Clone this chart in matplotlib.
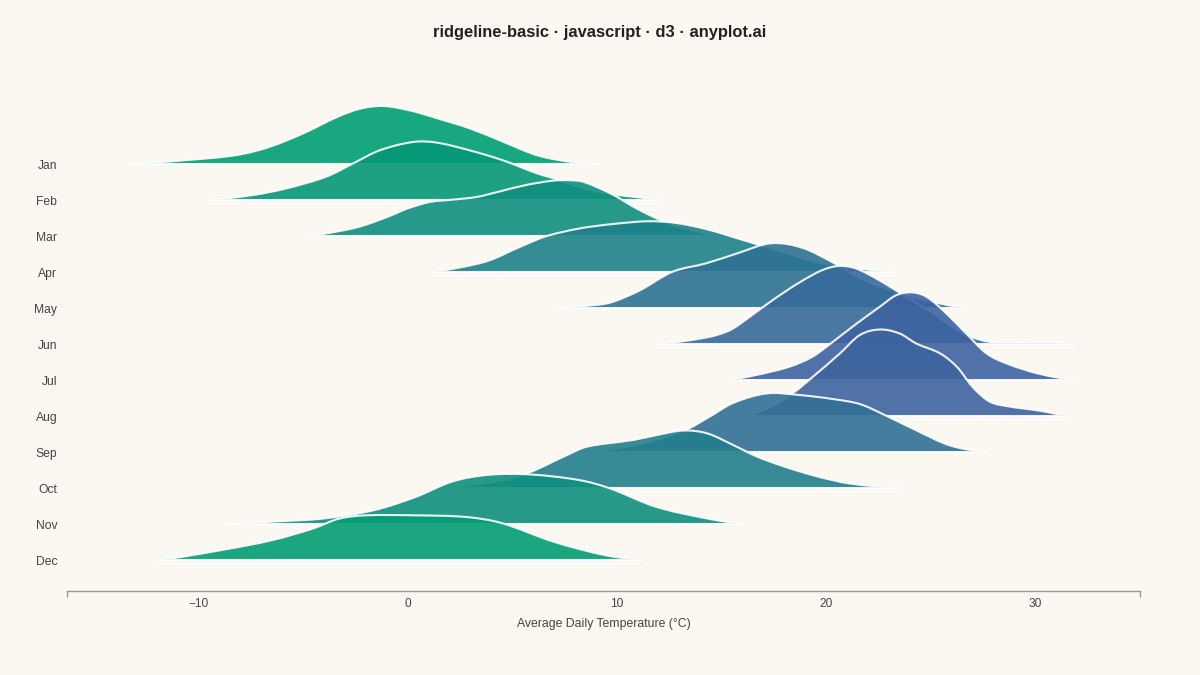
import numpy as np
import matplotlib
matplotlib.use("Agg")
import matplotlib.pyplot as plt
from matplotlib.path import Path
from matplotlib.patches import PathPatch
from matplotlib import colors as mcolors

plt.rcParams["font.family"] = ["Liberation Sans", "DejaVu Sans"]

months = ["Jan", "Feb", "Mar", "Apr", "May", "Jun",
          "Jul", "Aug", "Sep", "Oct", "Nov", "Dec"]

# density profiles (temperature in °C, density per °C)
jan_x = [-13.3, -10.6, -8.2, -6.6, -5.0, -3.4, -2.3, -1.2, 0.1, 1.4, 2.95, 4.55, 6.15, 7.75, 9.2]
jan_d = [0, .007, .016, .031, .055, .084, .099, .104, .096, .082, .064, .040, .016, .004, 0]

feb_x = [-9.6, -7.4, -5.8, -3.9, -2.6, -1.35, 0.25, 1.35, 2.95, 4.55, 6.15, 6.95, 8.2,
         9.65, 11.1, 12.15]
feb_d = [0, .009, .021, .042, .066, .089, .104, .103, .089, .071, .048, .039, .023,
         .011, .0045, 0]

mar_x = [-4.8, -3.25, -2.3, -1.35, -0.55, -0.05, 1.05, 2.1, 3.3, 4.4, 5.6, 6.9, 7.75,
         8.4, 9.7, 10.95, 12.05, 13.0, 13.95, 14.9]
mar_d = [0, .009, .017, .029, .041, .049, .061, .065, .070, .080, .091, .099, .100,
         .097, .076, .049, .029, .016, .007, 0]

apr_x = [1.05, 2.6, 3.9, 5.35, 6.6, 8.2, 9.8, 11.5, 12.8, 14.25, 16.05, 17.9, 19.75, 21.55, 23.4]
apr_d = [0, .009, .021, .045, .064, .078, .086, .091, .088, .077, .057, .036, .016, .006, 0]

may_x = [7.1, 8.7, 9.7, 11.1, 12.65, 14.25, 15.75, 17.35, 18.85, 20.45, 21.55, 22.55,
         23.85, 25.45, 26.7]
may_d = [0, .0045, .010, .032, .065, .080, .098, .116, .108, .079, .055, .039, .023, .008, 0]

jun_x = [11.9, 14.3, 15.4, 16.35, 17.45, 18.75, 19.85, 20.65, 21.45, 22.55, 23.85,
         25.1, 26.25, 27.0, 27.8, 29.4, 30.55, 31.9]
jun_d = [0, .012, .025, .049, .079, .111, .133, .140, .135, .114, .084, .055, .025,
         .012, .004, .0023, .0036, 0]

jul_x = [15.25, 16.65, 18.25, 19.35, 20.3, 21.45, 22.55, 23.35, 24.1, 24.8, 25.75,
         26.7, 27.65, 28.6, 30.2, 31.95]
jul_d = [0, .009, .024, .042, .068, .101, .131, .152, .157, .149, .119, .083, .048, .030, .011, 0]

aug_x = [15.85, 17.05, 18.4, 19.35, 20.65, 21.6, 22.55, 23.5, 24.3, 25.45, 26.25,
         27.0, 27.8, 28.6, 30.2, 31.65]
aug_d = [0, .011, .041, .070, .112, .145, .155, .148, .130, .112, .088, .052, .026, .018, .0095, 0]

sep_x = [8.2, 10.15, 11.55, 13.3, 14.45, 15.55, 17.15, 18.75, 20.3, 21.6, 22.7, 24.3, 25.9, 27.65]
sep_d = [0, .007, .018, .040, .064, .088, .105, .102, .095, .086, .068, .039, .012, 0]

oct_x = [1.35, 3.3, 4.4, 5.75, 7.6, 8.55, 10.75, 11.9, 13.15, 14.3, 15.55, 16.65,
         17.95, 19.55, 21.15, 23.5]
oct_d = [0, .007, .0125, .027, .059, .074, .086, .095, .103, .098, .077, .057,
         .039, .021, .008, 0]

nov_x = [-8.65, -6.35, -4.0, -1.6, 0.4, 2.1, 3.8, 5.75, 8.15, 9.65, 11.85, 14.3, 16.1]
nov_d = [0, .0045, .010, .025, .049, .076, .088, .089, .079, .064, .031, .010, 0]

dec_x = [-12.05, -8.9, -6.45, -4.5, -3.3, -2.05, 0.4, 2.8, 4.5, 6.95, 9.4, 11.25]
dec_d = [0, .018, .036, .057, .074, .080, .080, .077, .066, .033, .009, 0]

ridges = [(jan_x, jan_d), (feb_x, feb_d), (mar_x, mar_d), (apr_x, apr_d),
          (may_x, may_d), (jun_x, jun_d), (jul_x, jul_d), (aug_x, aug_d),
          (sep_x, sep_d), (oct_x, oct_d), (nov_x, nov_d), (dec_x, dec_d)]

ticks = [-10, 0, 10, 20, 30]

BG = "#FAF8F1"
COLD = np.array(mcolors.to_rgb("#009E73"))
WARM = np.array(mcolors.to_rgb("#3E63A0"))
SCALE = 15.5  # ridge height per unit density, in row spacings


def ridge_path(xs, ys, base):
    # smooth cubic through the read points, tangents from neighbours
    x = np.asarray(xs, float)
    y = np.asarray(ys, float) * SCALE + base
    m = np.zeros_like(x)
    m[1:-1] = (y[2:] - y[:-2]) / (x[2:] - x[:-2])
    m[0] = (y[1] - y[0]) / (x[1] - x[0]) * 0.5
    m[-1] = (y[-1] - y[-2]) / (x[-1] - x[-2]) * 0.5
    verts = [(x[0], base), (x[0], y[0])]
    codes = [Path.MOVETO, Path.LINETO]
    for k in range(len(x) - 1):
        d = (x[k + 1] - x[k]) / 3
        c1 = max(y[k] + m[k] * d, base)
        c2 = max(y[k + 1] - m[k + 1] * d, base)
        verts += [(x[k] + d, c1), (x[k + 1] - d, c2), (x[k + 1], y[k + 1])]
        codes += [Path.CURVE4] * 3
    verts += [(x[-1], base), (x[0], base)]
    codes += [Path.LINETO, Path.CLOSEPOLY]
    return Path(verts, codes)


fig = plt.figure(figsize=(12, 6.75), dpi=100, facecolor=BG)
ax = fig.add_axes([67 / 1200, 84 / 675, 1073 / 1200, 531 / 675])
ax.set_facecolor(BG)

means = [np.average(x, weights=np.asarray(d) + 1e-9) for x, d in ridges]
lo, hi = min(means), max(means)
n = len(months)
for i, (x, d) in enumerate(ridges):
    base = n - 1 - i
    t = (means[i] - lo) / (hi - lo)
    col = COLD + (WARM - COLD) * t
    ax.add_patch(PathPatch(ridge_path(x, d, base), facecolor=col, alpha=0.9,
                           edgecolor="white", linewidth=1.5, zorder=2 + i))

ax.set_xlim(-16.3, 35)
ax.set_ylim(-0.861, 13.889)

ax.set_yticks(range(n))
ax.set_yticklabels(months[::-1], fontsize=8.7, color="#444444")
ax.tick_params(axis="y", length=0, pad=7)

ax.set_xticks(ticks)
ax.set_xticklabels(["\u2212" + str(-v) if v < 0 else str(v) for v in ticks],
                   fontsize=8.6, color="#444444")
ax.set_xticks([-16.3, 35], minor=True)
ax.tick_params(axis="x", which="major", length=0, pad=5)
ax.tick_params(axis="x", which="minor", length=4.3, width=1, color="#999999")

for side in ["top", "left", "right"]:
    ax.spines[side].set_visible(False)
ax.spines["bottom"].set_color("#999999")
ax.spines["bottom"].set_linewidth(1)

ax.set_xlabel("Average Daily Temperature (°C)", fontsize=8.8, color="#444444", labelpad=6)

fig.text(0.5, 1 - 32 / 675, "ridgeline-basic · javascript · d3 · anyplot.ai",
         ha="center", va="center", fontsize=11.9, fontweight="bold", color="#222222")

fig.savefig("out.png", dpi=100, facecolor=BG)
